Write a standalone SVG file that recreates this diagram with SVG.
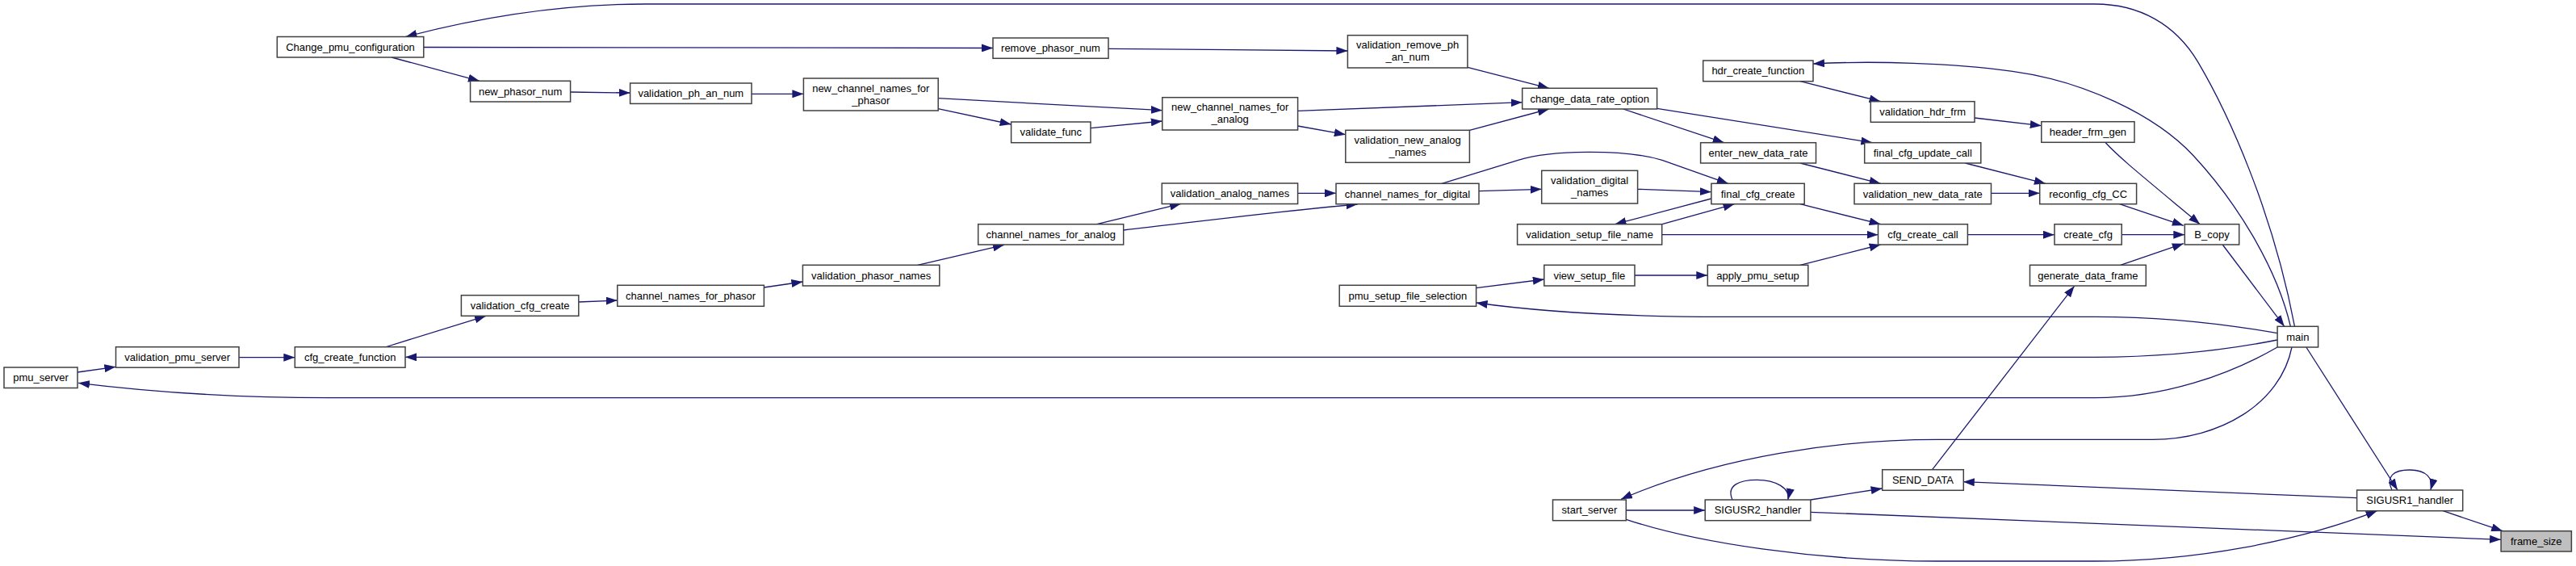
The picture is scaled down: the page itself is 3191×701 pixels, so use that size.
<svg xmlns="http://www.w3.org/2000/svg" width="3191" height="701" viewBox="0 0 3191 701">
<defs>
<marker id="arr" markerUnits="userSpaceOnUse" markerWidth="14" markerHeight="10" refX="14" refY="5" orient="auto">
<path d="M0,0 L14,5 L0,10 z" fill="#191970"/>
</marker>
<style>
.n rect{fill:#ffffff;stroke:#404040;stroke-width:1.5}
.n.g rect{fill:#bfbfbf}
.n text{font-family:"Liberation Sans",Arial,sans-serif;font-size:13px;text-anchor:middle;fill:#000000}
#edges path{fill:none;stroke:#191970;stroke-width:1.3;marker-end:url(#arr)}
</style>
</defs>
<rect width="3191" height="701" fill="#ffffff"/>
<g id="edges">
<path d="M2842.5,404.3 C2815,260 2760,140 2722.6,76.7 C2695,30 2650,5 2595,5 L800,5 C700,5 600,20 502.5,45.5"/>
<path d="M485,71 L594,100.3"/>
<path d="M524.5,58.5 L1230,59.5"/>
<path d="M706.6,114 L780.6,115"/>
<path d="M931,116.3 L995.4,116.3"/>
<path d="M1162,121.7 L1439.8,136.7"/>
<path d="M1162,134.7 L1252.6,154"/>
<path d="M1351,158.7 L1439.8,150"/>
<path d="M1373,60.3 L1669.4,63"/>
<path d="M1817.9,83.3 L1918.9,109.3"/>
<path d="M1607.6,137.3 L1885.7,126.7"/>
<path d="M1607.6,156 L1666.8,166.7"/>
<path d="M1820.4,161.3 L1918.9,135"/>
<path d="M2010.7,135 L2135.7,176.7"/>
<path d="M2052.6,134.3 L2319.4,176.7"/>
<path d="M2837.4,404.3 C2820,330 2770,250 2717.5,193.3 C2670,142 2580,100 2493,88.3 C2420,78 2320,75 2246,79"/>
<path d="M2230,100.7 L2329.6,125.7"/>
<path d="M2446,146 L2528.8,155.7"/>
<path d="M2230,202 L2329.6,227.3"/>
<path d="M2434.4,202 L2533.9,227.3"/>
<path d="M2466.5,239.3 L2526.7,239.3"/>
<path d="M2607.8,176.3 C2625,195 2650,215 2725.2,277.7"/>
<path d="M2625.7,252.7 L2704.8,279.3"/>
<path d="M2437.4,290.7 L2545,290.7"/>
<path d="M2628.2,290.7 L2706.3,290.7"/>
<path d="M2626.7,328.3 L2704.8,301.7"/>
<path d="M2753.2,303 L2829.8,404.3"/>
<path d="M1786,227.3 L1880.6,198.3 C1920,186 2010,184 2059,198.3 L2140.8,227.3"/>
<path d="M1832,236.7 L1909.7,234.3"/>
<path d="M2028.6,234.3 L2119.9,237.7"/>
<path d="M2119.9,246 L2000.5,277.7"/>
<path d="M2059,277.7 L2148.5,252.7"/>
<path d="M2230,252.7 L2329.6,277.7"/>
<path d="M2058.7,290.7 L2326.5,290.7"/>
<path d="M2230,328.3 L2329.6,303"/>
<path d="M2025,341 L2115.3,341"/>
<path d="M1828.6,356.7 L1912.8,346"/>
<path d="M2821.1,412.7 C2750,400 2680,392.3 2595,392.3 L2135.7,392.3 C2000,392.3 1900,385 1828.6,375"/>
<path d="M2821.1,421 C2750,435 2680,442.3 2595,442.3 L502,442.3"/>
<path d="M2821.1,430 C2760,465 2680,492.7 2595,492.7 L408,492.7 C300,492.7 200,487 97,474.3"/>
<path d="M2839,430 C2825,500 2750,544.3 2666.5,544.3 L2400,544.3 C2280,544.3 2130,565 2008,618.3"/>
<path d="M2856.8,430 L2970,607"/>
<path d="M2963,607 C2955,590 2965,582 2985,582 C3005,582 3015,592 3010.9,607"/>
<path d="M2919.6,616.7 L2431.8,596.7"/>
<path d="M3026.2,632.7 L3100.2,657.7"/>
<path d="M2014.3,632 L2112.2,632"/>
<path d="M2146,619 C2138,601 2155,594.3 2176.5,594.3 C2200,594.3 2218,605 2214.8,619"/>
<path d="M2242.9,619 L2331.6,605"/>
<path d="M2242.9,634.3 L3098.1,668.3"/>
<path d="M2014.3,643.3 C2100,672 2250,695 2400,695 L2595,695 C2720,695 2850,670 2944.6,632.7"/>
<path d="M2393.6,581.7 L2569.6,354.3"/>
<path d="M946.4,356 L994.4,349"/>
<path d="M1136.7,328.3 L1243.9,303.3"/>
<path d="M1358.7,277.7 L1463,252.3"/>
<path d="M1391.8,285 C1480,275 1580,262 1681.6,253"/>
<path d="M1607.6,239.3 L1655,239.3"/>
<path d="M96,461 L143.4,454.3"/>
<path d="M296,442.7 L365.3,442.7"/>
<path d="M477,430 L602,391.3"/>
<path d="M716.8,374 L764.8,372"/>
</g>
<g id="pmu_server" class="n"><rect x="5" y="455" width="91" height="25.5"/><text x="50.5" y="472">pmu_server</text></g>
<g id="validation_pmu_server" class="n"><rect x="143.5" y="429.7" width="152.5" height="25.5"/><text x="219.75" y="447">validation_pmu_server</text></g>
<g id="cfg_create_function" class="n"><rect x="365.3" y="429.7" width="136.7" height="25.5"/><text x="433.65" y="447">cfg_create_function</text></g>
<g id="Change_pmu_configuration" class="n"><rect x="343.3" y="45.5" width="181.5" height="25.5"/><text x="434" y="62.75">Change_pmu_configuration</text></g>
<g id="new_phasor_num" class="n"><rect x="582.6" y="100.3" width="124" height="25.7"/><text x="644.6" y="117.6">new_phasor_num</text></g>
<g id="validation_cfg_create" class="n"><rect x="571.4" y="365.7" width="145.4" height="25.6"/><text x="644.1" y="383">validation_cfg_create</text></g>
<g id="validation_ph_an_num" class="n"><rect x="780.6" y="103" width="150.4" height="25.4"/><text x="855.8" y="120.2">validation_ph_an_num</text></g>
<g id="channel_names_for_phasor" class="n"><rect x="764.8" y="353.3" width="181.6" height="26"/><text x="855.6" y="370.8">channel_names_for_phasor</text></g>
<g id="new_channel_names_for_phasor" class="n"><rect x="995.4" y="97" width="166.8" height="40"/><text x="1078.8" y="113.5">new_channel_names_for</text><text x="1078.8" y="128.5">_phasor</text></g>
<g id="validation_phasor_names" class="n"><rect x="994.4" y="328.3" width="169.4" height="25.7"/><text x="1079.1" y="345.7">validation_phasor_names</text></g>
<g id="remove_phasor_num" class="n"><rect x="1230" y="47" width="143" height="25.3"/><text x="1301.5" y="64.2">remove_phasor_num</text></g>
<g id="validate_func" class="n"><rect x="1252.6" y="151" width="98.4" height="25.7"/><text x="1301.8" y="168.4">validate_func</text></g>
<g id="channel_names_for_analog" class="n"><rect x="1211.7" y="277.7" width="180" height="25.3"/><text x="1301.7" y="294.9">channel_names_for_analog</text></g>
<g id="new_channel_names_for_analog" class="n"><rect x="1439.8" y="120.7" width="167.8" height="40.3"/><text x="1523.7" y="137.2">new_channel_names_for</text><text x="1523.7" y="152.2">_analog</text></g>
<g id="validation_analog_names" class="n"><rect x="1439.3" y="227" width="168.3" height="25.5"/><text x="1523.45" y="244.25">validation_analog_names</text></g>
<g id="validation_remove_ph_an_num" class="n"><rect x="1669.4" y="43.7" width="148.5" height="40.3"/><text x="1743.65" y="60.2">validation_remove_ph</text><text x="1743.65" y="75.2">_an_num</text></g>
<g id="validation_new_analog_names" class="n"><rect x="1666.8" y="161.3" width="153.6" height="40"/><text x="1743.6" y="177.8">validation_new_analog</text><text x="1743.6" y="192.8">_names</text></g>
<g id="channel_names_for_digital" class="n"><rect x="1655" y="227.3" width="177" height="25.4"/><text x="1743.5" y="244.5">channel_names_for_digital</text></g>
<g id="pmu_setup_file_selection" class="n"><rect x="1659.2" y="353.3" width="169.4" height="26"/><text x="1743.9" y="370.8">pmu_setup_file_selection</text></g>
<g id="change_data_rate_option" class="n"><rect x="1885.7" y="109.3" width="166.9" height="25.7"/><text x="1969.15" y="126.65">change_data_rate_option</text></g>
<g id="validation_digital_names" class="n"><rect x="1909.7" y="211.3" width="118.9" height="40.7"/><text x="1969.15" y="227.8">validation_digital</text><text x="1969.15" y="242.8">_names</text></g>
<g id="validation_setup_file_name" class="n"><rect x="1879.6" y="277.7" width="179.1" height="25.3"/><text x="1969.15" y="294.85">validation_setup_file_name</text></g>
<g id="view_setup_file" class="n"><rect x="1912.8" y="328.3" width="112.2" height="25.7"/><text x="1968.9" y="345.65">view_setup_file</text></g>
<g id="start_server" class="n"><rect x="1923.5" y="619" width="90.8" height="25.7"/><text x="1968.9" y="636.35">start_server</text></g>
<g id="hdr_create_function" class="n"><rect x="2109.7" y="75" width="136.3" height="25.7"/><text x="2177.85" y="92.35">hdr_create_function</text></g>
<g id="enter_new_data_rate" class="n"><rect x="2106.6" y="176.7" width="142.9" height="25.3"/><text x="2178.05" y="193.85">enter_new_data_rate</text></g>
<g id="final_cfg_create" class="n"><rect x="2119.9" y="227.3" width="115.3" height="25.4"/><text x="2177.55" y="244.5">final_cfg_create</text></g>
<g id="apply_pmu_setup" class="n"><rect x="2115.3" y="328.3" width="124.5" height="25.7"/><text x="2177.55" y="345.65">apply_pmu_setup</text></g>
<g id="SIGUSR2_handler" class="n"><rect x="2112.2" y="619" width="130.7" height="25.7"/><text x="2177.55" y="636.35">SIGUSR2_handler</text></g>
<g id="validation_hdr_frm" class="n"><rect x="2317.3" y="125.7" width="128.7" height="25.6"/><text x="2381.65" y="143">validation_hdr_frm</text></g>
<g id="final_cfg_update_call" class="n"><rect x="2309.7" y="176.7" width="144.1" height="25.3"/><text x="2381.75" y="193.85">final_cfg_update_call</text></g>
<g id="validation_new_data_rate" class="n"><rect x="2297" y="227.3" width="169.5" height="25.4"/><text x="2381.75" y="244.5">validation_new_data_rate</text></g>
<g id="cfg_create_call" class="n"><rect x="2326.5" y="277.7" width="110.9" height="25.3"/><text x="2381.95" y="294.85">cfg_create_call</text></g>
<g id="SEND_DATA" class="n"><rect x="2331.7" y="581.7" width="100.6" height="25.6"/><text x="2382" y="599">SEND_DATA</text></g>
<g id="header_frm_gen" class="n"><rect x="2528.8" y="150.7" width="115.2" height="25.6"/><text x="2586.4" y="168">header_frm_gen</text></g>
<g id="reconfig_cfg_CC" class="n"><rect x="2526.7" y="227.3" width="119.9" height="25.4"/><text x="2586.65" y="244.5">reconfig_cfg_CC</text></g>
<g id="create_cfg" class="n"><rect x="2545" y="277.7" width="83.2" height="25.3"/><text x="2586.6" y="294.85">create_cfg</text></g>
<g id="generate_data_frame" class="n"><rect x="2514.5" y="328.3" width="143.8" height="25.7"/><text x="2586.4" y="345.65">generate_data_frame</text></g>
<g id="B_copy" class="n"><rect x="2706.3" y="277.7" width="67.4" height="25.3"/><text x="2740" y="294.85">B_copy</text></g>
<g id="main" class="n"><rect x="2821.1" y="404.3" width="50.5" height="25.7"/><text x="2846.35" y="421.65">main</text></g>
<g id="SIGUSR1_handler" class="n"><rect x="2919.6" y="607" width="131.1" height="25.7"/><text x="2985.15" y="624.35">SIGUSR1_handler</text></g>
<g id="frame_size" class="n g"><rect x="3098.1" y="657.7" width="87.3" height="25.3"/><text x="3141.75" y="674.85">frame_size</text></g>
</svg>
